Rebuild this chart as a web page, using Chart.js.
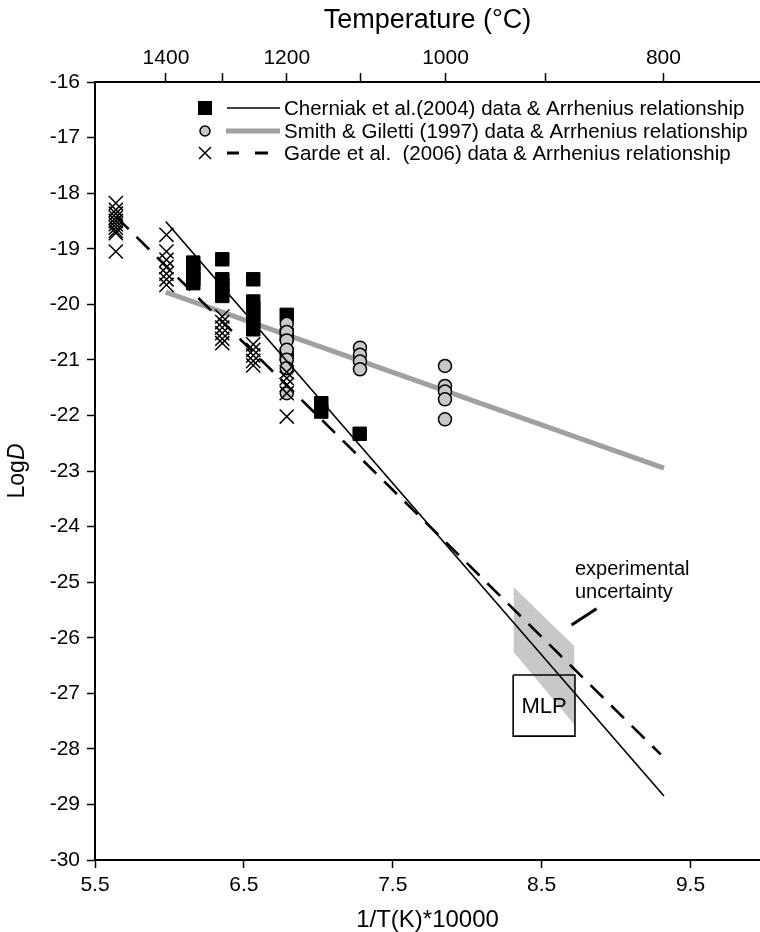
<!DOCTYPE html>
<html>
<head>
<meta charset="utf-8">
<script src="https://cdn.jsdelivr.net/npm/chart.js@4.4.1/dist/chart.umd.min.js"></script>
<style>
html,body{margin:0;padding:0;background:#ffffff;overflow:hidden;}
#wrap{width:760px;height:932px;position:relative;}
canvas{display:block;}
</style>
</head>
<body>
<div id="wrap"><canvas id="c" width="760" height="932"></canvas></div>
<script>
// ---------- data (x = 1/T(K)*10000, y = log D) ----------
const cherniakX = [6.16,6.16,6.16,6.16,6.16, 6.355,6.355,6.355,6.355,6.355, 6.563,6.563,6.563,6.563,6.563,6.563, 6.788,6.788,6.788, 7.02,7.02, 7.278];
const cherniakY = [-19.25,-19.35,-19.45,-19.55,-19.62, -19.19,-19.55,-19.65,-19.75,-19.85, -19.55,-19.95,-20.08,-20.2,-20.32,-20.45, -20.19,-20.55,-20.9, -21.78,-21.93, -22.33];

const smithX = [6.788,6.788,6.788,6.788,6.788,6.788,6.788, 7.28,7.28,7.28,7.28, 7.851,7.851,7.851,7.851,7.851];
const smithY = [-20.35,-20.5,-20.65,-20.82,-21.0,-21.15,-21.6, -20.78,-20.91,-21.03,-21.17, -21.11,-21.47,-21.57,-21.71,-22.07];

const gardeX = [5.64,5.64,5.64,5.64,5.64,5.64,5.64,5.64,5.64,5.64, 5.98,5.98,5.98,5.98,5.98,5.98,5.98, 6.355,6.355,6.355,6.355,6.355,6.355, 6.563,6.563,6.563,6.563,6.563, 6.788,6.788,6.788,6.788,6.788];
const gardeY = [-18.18,-18.3,-18.37,-18.44,-18.5,-18.56,-18.62,-18.68,-18.72,-19.05, -18.75,-19.05,-19.2,-19.33,-19.45,-19.55,-19.65, -20.22,-20.32,-20.42,-20.52,-20.62,-20.7, -20.72,-20.82,-20.92,-21.02,-21.1, -21.22,-21.33,-21.45,-21.6,-22.02];

// Arrhenius relationships (end points)
const cherniakLineX = [5.975, 9.322];
const cherniakLineY = [-18.51, -28.85];
const smithLineX = [5.975, 9.322];
const smithLineY = [-19.78, -22.95];
const gardeLineX = [5.64, 9.30];
const gardeLineY = [-18.42, -28.1];

// experimental uncertainty band, MLP box, pointer
const uncX = [8.313, 8.719, 8.719, 8.313, 8.313];
const uncY = [-25.09, -26.15, -27.56, -26.26, -25.09];
const mlpX = [8.309, 8.724, 8.724, 8.309, 8.309];
const mlpY = [-26.67, -26.67, -27.77, -27.77, -26.67];
const ptrX = [8.701, 8.869];
const ptrY = [-25.77, -25.48];

// axes
const xTicks = [5.5, 6.5, 7.5, 8.5, 9.5];
const tempTicks = [1400, 1300, 1200, 1100, 1000, 900, 800];
const tempLabels = [1400, 1200, 1000, 800];
const legendLabels = [
  "Cherniak et al.(2004) data & Arrhenius relationship",
  "Smith & Giletti (1997) data & Arrhenius relationship",
  "Garde et al.  (2006) data & Arrhenius relationship"
];

const FONT = "'Liberation Sans', Arial, Helvetica, sans-serif";
const pts = (xs, ys) => xs.map((x, i) => ({x: x, y: ys[i]}));

const legendPlugin = {
  id: 'customLegend',
  afterDraw(chart) {
    const ctx = chart.ctx;
    const rows = [108, 131, 153];
    const mx = 205, lx0 = 227, lx1 = 280, tx = 284;
    ctx.save();
    ctx.fillStyle = '#000';
    ctx.fillRect(mx - 7, rows[0] - 7, 14, 14);
    ctx.strokeStyle = '#000'; ctx.lineWidth = 1.6;
    ctx.beginPath(); ctx.moveTo(lx0, rows[0]); ctx.lineTo(lx1, rows[0]); ctx.stroke();
    ctx.beginPath(); ctx.arc(mx, rows[1], 5, 0, Math.PI * 2);
    ctx.fillStyle = '#c8c8c8'; ctx.fill(); ctx.lineWidth = 1.5; ctx.strokeStyle = '#000'; ctx.stroke();
    ctx.strokeStyle = '#a0a0a0'; ctx.lineWidth = 5;
    ctx.beginPath(); ctx.moveTo(lx0 - 1, rows[1]); ctx.lineTo(lx1, rows[1]); ctx.stroke();
    ctx.strokeStyle = '#000'; ctx.lineWidth = 1.5;
    ctx.beginPath();
    ctx.moveTo(mx - 6, rows[2] - 6); ctx.lineTo(mx + 6, rows[2] + 6);
    ctx.moveTo(mx + 6, rows[2] - 6); ctx.lineTo(mx - 6, rows[2] + 6);
    ctx.stroke();
    ctx.lineWidth = 3;
    ctx.beginPath(); ctx.moveTo(227, rows[2]); ctx.lineTo(239, rows[2]);
    ctx.moveTo(255, rows[2]); ctx.lineTo(268, rows[2]); ctx.stroke();
    ctx.fillStyle = '#000';
    ctx.font = '20.5px ' + FONT;
    ctx.textBaseline = 'middle'; ctx.textAlign = 'left';
    legendLabels.forEach((t, i) => ctx.fillText(t, tx, rows[i] + 1));
    ctx.restore();
  }
};

const textPlugin = {
  id: 'annotText',
  afterDraw(chart) {
    const ctx = chart.ctx;
    const xs = chart.scales.x, ys = chart.scales.y;
    ctx.save();
    ctx.fillStyle = '#000';
    ctx.font = '22px ' + FONT;
    ctx.textAlign = 'center'; ctx.textBaseline = 'middle';
    ctx.fillText('MLP', xs.getPixelForValue((mlpX[0] + mlpX[1]) / 2), ys.getPixelForValue((mlpY[0] + mlpY[2]) / 2) + 1);
    ctx.font = '20px ' + FONT;
    ctx.textAlign = 'left';
    ctx.fillText('experimental', xs.getPixelForValue(8.724), ys.getPixelForValue(-24.78));
    ctx.fillText('uncertainty', xs.getPixelForValue(8.724), ys.getPixelForValue(-25.18));
    ctx.translate(18, (chart.chartArea.top + chart.chartArea.bottom) / 2);
    ctx.rotate(-Math.PI / 2);
    ctx.font = '23px ' + FONT;
    const w1 = ctx.measureText('Log').width;
    ctx.font = 'italic 23px ' + FONT;
    const w2 = ctx.measureText('D').width;
    const start = -(w1 + w2) / 2;
    ctx.textAlign = 'left';
    ctx.font = '23px ' + FONT;
    ctx.fillText('Log', start, 0);
    ctx.font = 'italic 23px ' + FONT;
    ctx.fillText('D', start + w1, 0);
    ctx.restore();
  }
};

const tickFont = {family: FONT, size: 21};
const zeroPad = s => { s.paddingLeft = 0; s.paddingRight = 0; s.paddingTop = 0; s.paddingBottom = 0; };

new Chart(document.getElementById('c'), {
  type: 'scatter',
  data: {
    datasets: [
      {label: 'uncertainty', data: pts(uncX, uncY), showLine: true, fill: 'shape',
        backgroundColor: '#c8c8c8', borderColor: 'rgba(0,0,0,0)', borderWidth: 0, pointRadius: 0, order: 20, tension: 0},
      {label: 'MLP', data: pts(mlpX, mlpY), showLine: true, fill: false,
        borderColor: '#000', borderWidth: 1.6, pointRadius: 0, order: 1},
      {label: 'pointer', data: pts(ptrX, ptrY), showLine: true, fill: false,
        borderColor: '#000', borderWidth: 3, pointRadius: 0, order: 1},
      {label: 'Smith line', data: pts(smithLineX, smithLineY), showLine: true,
        borderColor: '#a0a0a0', borderWidth: 5, pointRadius: 0, order: 15},
      {label: 'Cherniak', data: pts(cherniakX, cherniakY), pointStyle: 'rect', pointRadius: 9.5,
        backgroundColor: '#000', borderColor: '#000', borderWidth: 1, order: 12},
      {label: 'Smith', data: pts(smithX, smithY), pointStyle: 'circle', pointRadius: 6.5,
        backgroundColor: '#c8c8c8', borderColor: '#000', borderWidth: 1.5, order: 11},
      {label: 'Garde', data: pts(gardeX, gardeY), pointStyle: 'crossRot', pointRadius: 10,
        backgroundColor: '#000', borderColor: '#000', borderWidth: 1.5, order: 10},
      {label: 'Cherniak line', data: pts(cherniakLineX, cherniakLineY), showLine: true,
        borderColor: '#000', borderWidth: 1.6, pointRadius: 0, order: 2},
      {label: 'Garde line', data: pts(gardeLineX, gardeLineY), showLine: true,
        borderColor: '#000', borderWidth: 2.6, borderDash: [18, 11], pointRadius: 0, order: 2}
    ]
  },
  options: {
    responsive: false,
    devicePixelRatio: 1,
    animation: false,
    layout: {padding: 0, autoPadding: false},
    plugins: {legend: {display: false}, tooltip: {enabled: false}},
    elements: {point: {hoverRadius: 0}},
    scales: {
      x: {
        type: 'linear', position: 'bottom', min: 5.5, max: 9.967,
        afterBuildTicks: s => { s.ticks = xTicks.map(v => ({value: v})); },
        afterFit: s => { s.height = 72; zeroPad(s); },
        ticks: {font: tickFont, color: '#000', padding: 5, maxRotation: 0, autoSkip: false,
          callback: v => Number(v).toFixed(1)},
        grid: {display: true, drawOnChartArea: false, drawTicks: true, tickLength: 8, tickWidth: 1.5, tickColor: '#000'},
        border: {display: true, color: '#000', width: 2},
        title: {display: true, text: '1/T(K)*10000', color: '#000', font: {family: FONT, size: 24, lineHeight: 1}, padding: {top: 0, bottom: 0}}
      },
      x2: {
        type: 'linear', position: 'top', min: 5.5, max: 9.967,
        afterBuildTicks: s => { s.ticks = tempTicks.map(t => ({value: 10000 / (t + 273.15)})); },
        afterFit: s => { s.height = 82; zeroPad(s); },
        ticks: {font: tickFont, color: '#000', padding: 2, maxRotation: 0, autoSkip: false,
          callback: v => { const t = Math.round(10000 / v - 273.15); return tempLabels.includes(t) ? String(t) : ''; }},
        grid: {display: true, drawOnChartArea: false, drawTicks: true, tickLength: 9, tickWidth: 1.5, tickColor: '#000'},
        border: {display: true, color: '#000', width: 2},
        title: {display: true, text: 'Temperature (\u00B0C)', color: '#000', font: {family: FONT, size: 27, lineHeight: 1}, padding: {top: 7, bottom: 0}}
      },
      y: {
        type: 'linear', position: 'left', min: -30, max: -16,
        afterFit: s => { s.width = 95; zeroPad(s); },
        ticks: {font: tickFont, color: '#000', padding: 7, stepSize: 1, autoSkip: false,
          callback: v => String(v)},
        grid: {display: true, drawOnChartArea: false, drawTicks: true, tickLength: 8, tickWidth: 1.5, tickColor: '#000'},
        border: {display: true, color: '#000', width: 2}
      }
    }
  },
  plugins: [legendPlugin, textPlugin]
});
</script>
</body>
</html>
